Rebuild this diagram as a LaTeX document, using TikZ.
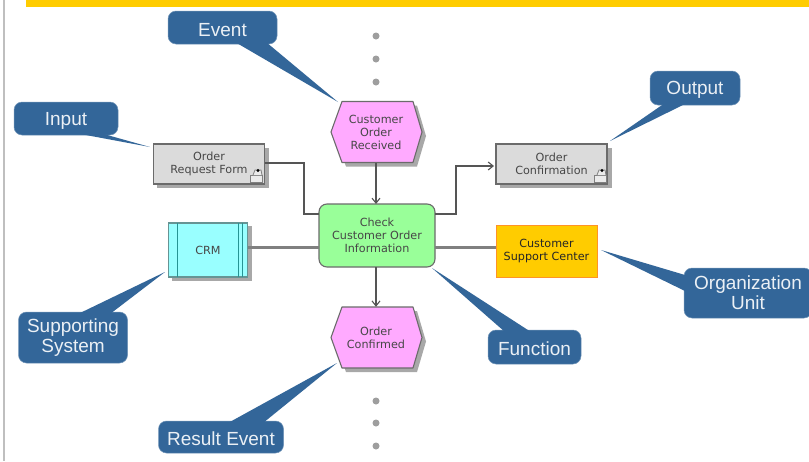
\documentclass[tikz,border=0pt]{standalone}
\usepackage{fontspec}
\setmainfont{Liberation Sans}
\newfontfamily\smallf{DejaVu Sans}
\usetikzlibrary{arrows.meta}
\definecolor{bluec}{HTML}{336699}
\definecolor{barc}{HTML}{FFCC00}
\definecolor{linec}{HTML}{555555}
\definecolor{shad}{HTML}{A8A8A8}
\definecolor{funcg}{HTML}{99FF99}
\definecolor{sysc}{HTML}{99FFFF}
\definecolor{hexc}{HTML}{FFAAFF}
\tikzset{
  callout/.style={fill=bluec,draw=bluec!70,line width=.5pt,rounded corners=8pt,text=white!90!bluec,align=center,inner sep=0pt,font=\fontsize{19}{20}\selectfont,execute at begin node={\rule{0pt}{17.5pt}}},
  tail/.style={fill=bluec},
  smalltext/.style={align=center,inner sep=0pt,font=\smallf\fontsize{11.2}{13}\selectfont,text=black!72},
  docbox/.style={smalltext,draw=black!58,line width=1.1pt,fill=black!14,minimum width=111pt,minimum height=40pt},
  funcbox/.style={smalltext,draw=black!58,line width=1.1pt,fill=funcg,rounded corners=8pt,minimum width=116pt,minimum height=63pt},
  sysbox/.style={smalltext,draw=teal!60!black!60,line width=1.1pt,fill=sysc,minimum width=79pt,minimum height=54pt},
  orgbox/.style={smalltext,draw=orange!85,line width=1pt,fill=barc,minimum width=101pt,minimum height=52pt,text=black!85},
  hextext/.style={smalltext,minimum width=91pt},
  hexfill/.style={fill=hexc,draw=black!58,line width=1.1pt,line join=round},
  shadowfill/.style={fill=shad,draw=none},
  conn/.style={draw=linec,line width=1.3pt},
  thick conn/.style={draw=black!50,line width=3pt},
  arrowed/.style={conn,-{Straight Barb[length=5pt,width=8pt,line width=1.1pt]}},
  dotm/.style={circle,fill=black!38,minimum size=7pt,inner sep=0pt},
  icon/.style={draw=black!50,fill=black!8,line width=.8pt},
  stripe/.style={draw=teal!85,line width=.9pt}
}
\newcommand{\hexa}[4]{%
  \path[shadowfill,shift={(#2+4,#3+4)}] (-34,-30.5)--(37,-30.5)--(46,0)--(37,30.5)--(-34,30.5)--(-45,0)--cycle;
  \path[hexfill,shift={(#2,#3)}] (-34,-30.5)--(37,-30.5)--(46,0)--(37,30.5)--(-34,30.5)--(-45,0)--cycle;
  \node[hextext,minimum height=61pt] (#1) at (#2,#3) {#4};
}
\begin{document}
\begin{tikzpicture}[x=1pt,y=-1pt]
\useasboundingbox (0,0) rectangle (809,461);
\fill[white] (0,0) rectangle (809,461);
% page frame
\fill[black!25] (3,0) rectangle (4.5,461);
\fill[barc] (26,0) rectangle (809,7);
% dots
\node[dotm] (d1) at (376,36) {};
\node[dotm] (d2) at (376,59) {};
\node[dotm] (d3) at (376,82) {};
\node[dotm] (d4) at (376,401) {};
\node[dotm] (d5) at (376,423) {};
\node[dotm] (d6) at (376,446) {};
% shadows
\fill[shad] (157,148) rectangle (269,188);
\fill[shad] (500,148) rectangle (612,188);
\fill[shad] (172,226) rectangle (252,281);
% nodes
\hexa{ev1}{376}{132}{Customer\\Order\\Received}
\hexa{ev2}{376}{337.5}{Order\\Confirmed}
\node[docbox] (form) at (209,164) {Order\\Request Form\hspace{14pt}};
\node[docbox] (conf) at (551.5,164) {Order\\Confirmation\hspace{4pt}};
\node[funcbox] (func) at (377,235.5) {Check\\Customer Order\\Information};
\node[sysbox] (crm) at (208,250) {CRM};
\node[orgbox] (org) at (546.5,251) {Customer\\Support Center};
% system stripes
\draw[stripe] (177,223)--(177,277) (238,223)--(238,277) (242,223)--(242,277);
% document icons
\draw[icon] (250,175) rectangle (262,182);
\draw[icon] (253,175)--(255,170)--(261,170)--(262,175);
\fill[black] (258,170.5) circle (1.6pt);
\draw[icon] (594,175) rectangle (606,182);
\draw[icon] (597,175)--(599,170)--(605,170)--(606,175);
\fill[black] (602,170.5) circle (1.6pt);
% connectors
\coordinate (fi) at (319,214);
\coordinate (fo) at (435,214);
\coordinate (ci) at (494,166);
\coordinate (fa) at (376,204);
\coordinate (fb) at (376,267);
\draw[conn] (265,163) -- (304,163) -- (304,214) -- (fi);
\draw[arrowed] (fo) -- (456,214) -- (456,166) -- (ci);
\draw[arrowed] (ev1.south) -- (fa);
\draw[arrowed] (fb) -- (ev2.north);
\draw[thick conn] (248,247) -- (319,247);
\draw[thick conn] (435,247) -- (496,247);
% callout tails
\coordinate (t1) at (338,102);
\coordinate (t2) at (150,147);
\coordinate (t3) at (610,141);
\coordinate (t4) at (165,272);
\coordinate (t5) at (337,363);
\coordinate (t6) at (432,268);
\coordinate (t7) at (601,250);
\node[callout,minimum width=109pt,minimum height=33pt] (cEvent) at (222.5,27.5) {Event};
\node[callout,minimum width=104pt,minimum height=33pt] (cInput) at (66,118.5) {Input};
\node[callout,minimum width=90pt,minimum height=34pt] (cOutput) at (695,88) {Output};
\node[callout,minimum width=109pt,minimum height=51pt] (cSys) at (73,337.5) {Supporting\\System};
\node[callout,minimum width=125pt,minimum height=32pt] (cRes) at (221,437) {Result Event};
\node[callout,minimum width=93pt,minimum height=34pt] (cFunc) at (534.5,347) {Function};
\node[callout,minimum width=128pt,minimum height=50pt] (cOrg) at (748,293) {Organization\\Unit};
\fill[tail] (235,42)--(266,42)--(t1)--cycle;
\fill[tail] (75,133)--(100,133)--(t2)--cycle;
\fill[tail] (665,103)--(687,103)--(t3)--cycle;
\fill[tail] (78,314)--(110,314)--(t4)--cycle;
\fill[tail] (228,423)--(263,423)--(t5)--cycle;
\fill[tail] (505,332)--(531,332)--(t6)--cycle;
\fill[tail] (685,275)--(685,291)--(t7)--cycle;
\end{tikzpicture}
\end{document}
